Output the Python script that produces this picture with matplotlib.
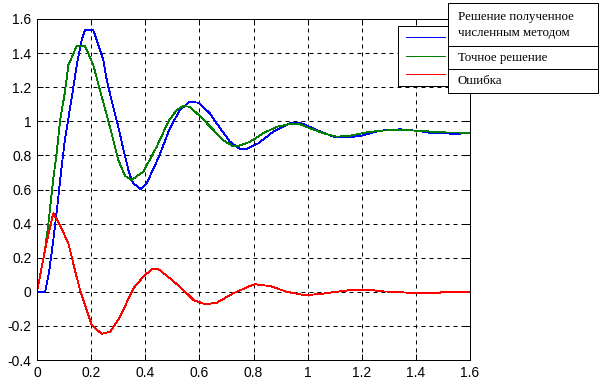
import matplotlib
matplotlib.use("Agg")
import matplotlib.pyplot as plt
from matplotlib.patches import Rectangle
from matplotlib.lines import Line2D

# numerical solution (blue)
t_num = [0.0, 0.03, 0.045, 0.06, 0.075, 0.09, 0.103, 0.128, 0.147, 0.165, 0.177,
         0.208, 0.227, 0.245, 0.258, 0.276, 0.3, 0.32, 0.34, 0.356, 0.383, 0.405,
         0.448, 0.491, 0.528, 0.565, 0.596, 0.639, 0.664, 0.713, 0.75, 0.775,
         0.818, 0.873, 0.935, 0.978, 1.034, 1.095, 1.145, 1.194, 1.268, 1.341,
         1.4, 1.452, 1.551, 1.6]
y_num = [0.0, 0.0, 0.12, 0.3, 0.5, 0.72, 0.89, 1.135, 1.33, 1.477, 1.534,
         1.534, 1.447, 1.36, 1.24, 1.12, 0.97, 0.83, 0.7, 0.636, 0.603, 0.636,
         0.783, 0.959, 1.066, 1.115, 1.109, 1.047, 0.988, 0.88, 0.838, 0.838,
         0.871, 0.939, 0.988, 0.988, 0.949, 0.91, 0.906, 0.914, 0.945, 0.953,
         0.945, 0.933, 0.926, 0.933]

# exact solution (green)
t_exact = [0.0, 0.03, 0.042, 0.06, 0.073, 0.085, 0.103, 0.116, 0.147, 0.177,
           0.208, 0.233, 0.264, 0.282, 0.3, 0.325, 0.35, 0.393, 0.442, 0.485,
           0.516, 0.541, 0.565, 0.602, 0.652, 0.688, 0.72, 0.744, 0.787, 0.836,
           0.886, 0.935, 0.972, 1.009, 1.058, 1.107, 1.157, 1.218, 1.268, 1.341,
           1.403, 1.5, 1.6]
y_exact = [0.0, 0.25, 0.4, 0.66, 0.82, 1.0, 1.17, 1.33, 1.443, 1.443,
           1.33, 1.18, 1.0, 0.89, 0.775, 0.68, 0.656, 0.705, 0.85, 0.998,
           1.066, 1.09, 1.085, 1.03, 0.949, 0.89, 0.857, 0.855, 0.88, 0.93,
           0.968, 0.984, 0.982, 0.959, 0.93, 0.91, 0.915, 0.935, 0.945, 0.95,
           0.945, 0.935, 0.933]

# error (red)
t_err = [0.0, 0.03, 0.06, 0.079, 0.116, 0.14, 0.159, 0.171, 0.202, 0.239, 0.27,
         0.307, 0.356, 0.393, 0.424, 0.448, 0.491, 0.535, 0.578, 0.621, 0.664,
         0.725, 0.787, 0.806, 0.861, 0.923, 0.99, 1.046, 1.107, 1.169, 1.23,
         1.268, 1.329, 1.37, 1.489, 1.5, 1.6]
y_err = [0.0, 0.25, 0.46, 0.41, 0.284, 0.128, 0.01, -0.048, -0.195, -0.247, -0.234,
         -0.146, 0.02, 0.089, 0.132, 0.134, 0.079, 0.02, -0.048, -0.073, -0.064,
         -0.009, 0.034, 0.044, 0.034, 0.0, -0.02, -0.013, 0.0, 0.012, 0.012,
         0.003, -0.001, -0.005, -0.005, 0.0, 0.0]

x_ticks = [0, 0.2, 0.4, 0.6, 0.8, 1.0, 1.2, 1.4, 1.6]
x_labels = ["0", "0.2", "0.4", "0.6", "0.8", "1", "1.2", "1.4", "1.6"]
y_ticks = [-0.4, -0.2, 0, 0.2, 0.4, 0.6, 0.8, 1.0, 1.2, 1.4, 1.6]
y_labels = ["-0.4", "-0.2", "0", "0.2", "0.4", "0.6", "0.8", "1", "1.2", "1.4", "1.6"]

legend_labels = ["Решение полученное\nчисленным методом", "Точное решение", "Ошибка"]
colors = ["#0000ff", "#008000", "#ff0000"]

LW = 0.72  # one pixel at 100 dpi
CURVE_LW = 0.6

W, H = 605, 387
fig = plt.figure(figsize=(W / 100, H / 100), dpi=100)
ax = fig.add_axes([37 / W, 1 - 360 / H, 433 / W, 341 / H])

ax.plot(t_num, y_num, color=colors[0], lw=CURVE_LW, antialiased=False)
ax.plot(t_exact, y_exact, color=colors[1], lw=CURVE_LW, antialiased=False)
ax.plot(t_err, y_err, color=colors[2], lw=CURVE_LW, antialiased=False)

ax.set_xlim(0, 1.6)
ax.set_ylim(-0.4, 1.6)
ax.set_xticks(x_ticks)
ax.set_xticklabels(x_labels)
ax.set_yticks(y_ticks)
ax.set_yticklabels(y_labels)
ax.grid(True, color="black", linestyle=(0, (4, 4)), linewidth=LW)
ax.tick_params(direction="in", length=4, width=LW, top=True, right=True,
               labelsize=10, pad=4)
for lab in ax.get_xticklabels() + ax.get_yticklabels():
    lab.set_fontfamily("Liberation Sans")
for sp in ax.spines.values():
    sp.set_linewidth(LW)


def fx(px):
    return px / W


def fy(py):
    return 1 - py / H


# legend: box with line samples, then the text table on top
fig.patches.append(Rectangle((fx(398), fy(86)), fx(460) - fx(398), fy(26) - fy(86),
                             transform=fig.transFigure, facecolor="white",
                             edgecolor="black", lw=LW))
for c, py in zip(colors, [37.3, 56, 74]):
    fig.lines.append(Line2D([fx(406), fx(445)], [fy(py), fy(py)], color=c, lw=LW,
                            transform=fig.transFigure, antialiased=False))

rows = [(3.3, 46), (46, 69.3), (69.3, 92.7)]
for (top, bot), text in zip(rows, legend_labels):
    fig.patches.append(Rectangle((fx(448.3), fy(bot)), fx(598.3) - fx(448.3), fy(top) - fy(bot),
                                 transform=fig.transFigure, facecolor="white",
                                 edgecolor="black", lw=LW))
    fig.text(fx(458), fy((top + bot) / 2 + 0.5), text, ha="left", va="center",
             fontsize=9.3, family="Liberation Serif", linespacing=1.4)

fig.savefig("out.png", dpi=100)
